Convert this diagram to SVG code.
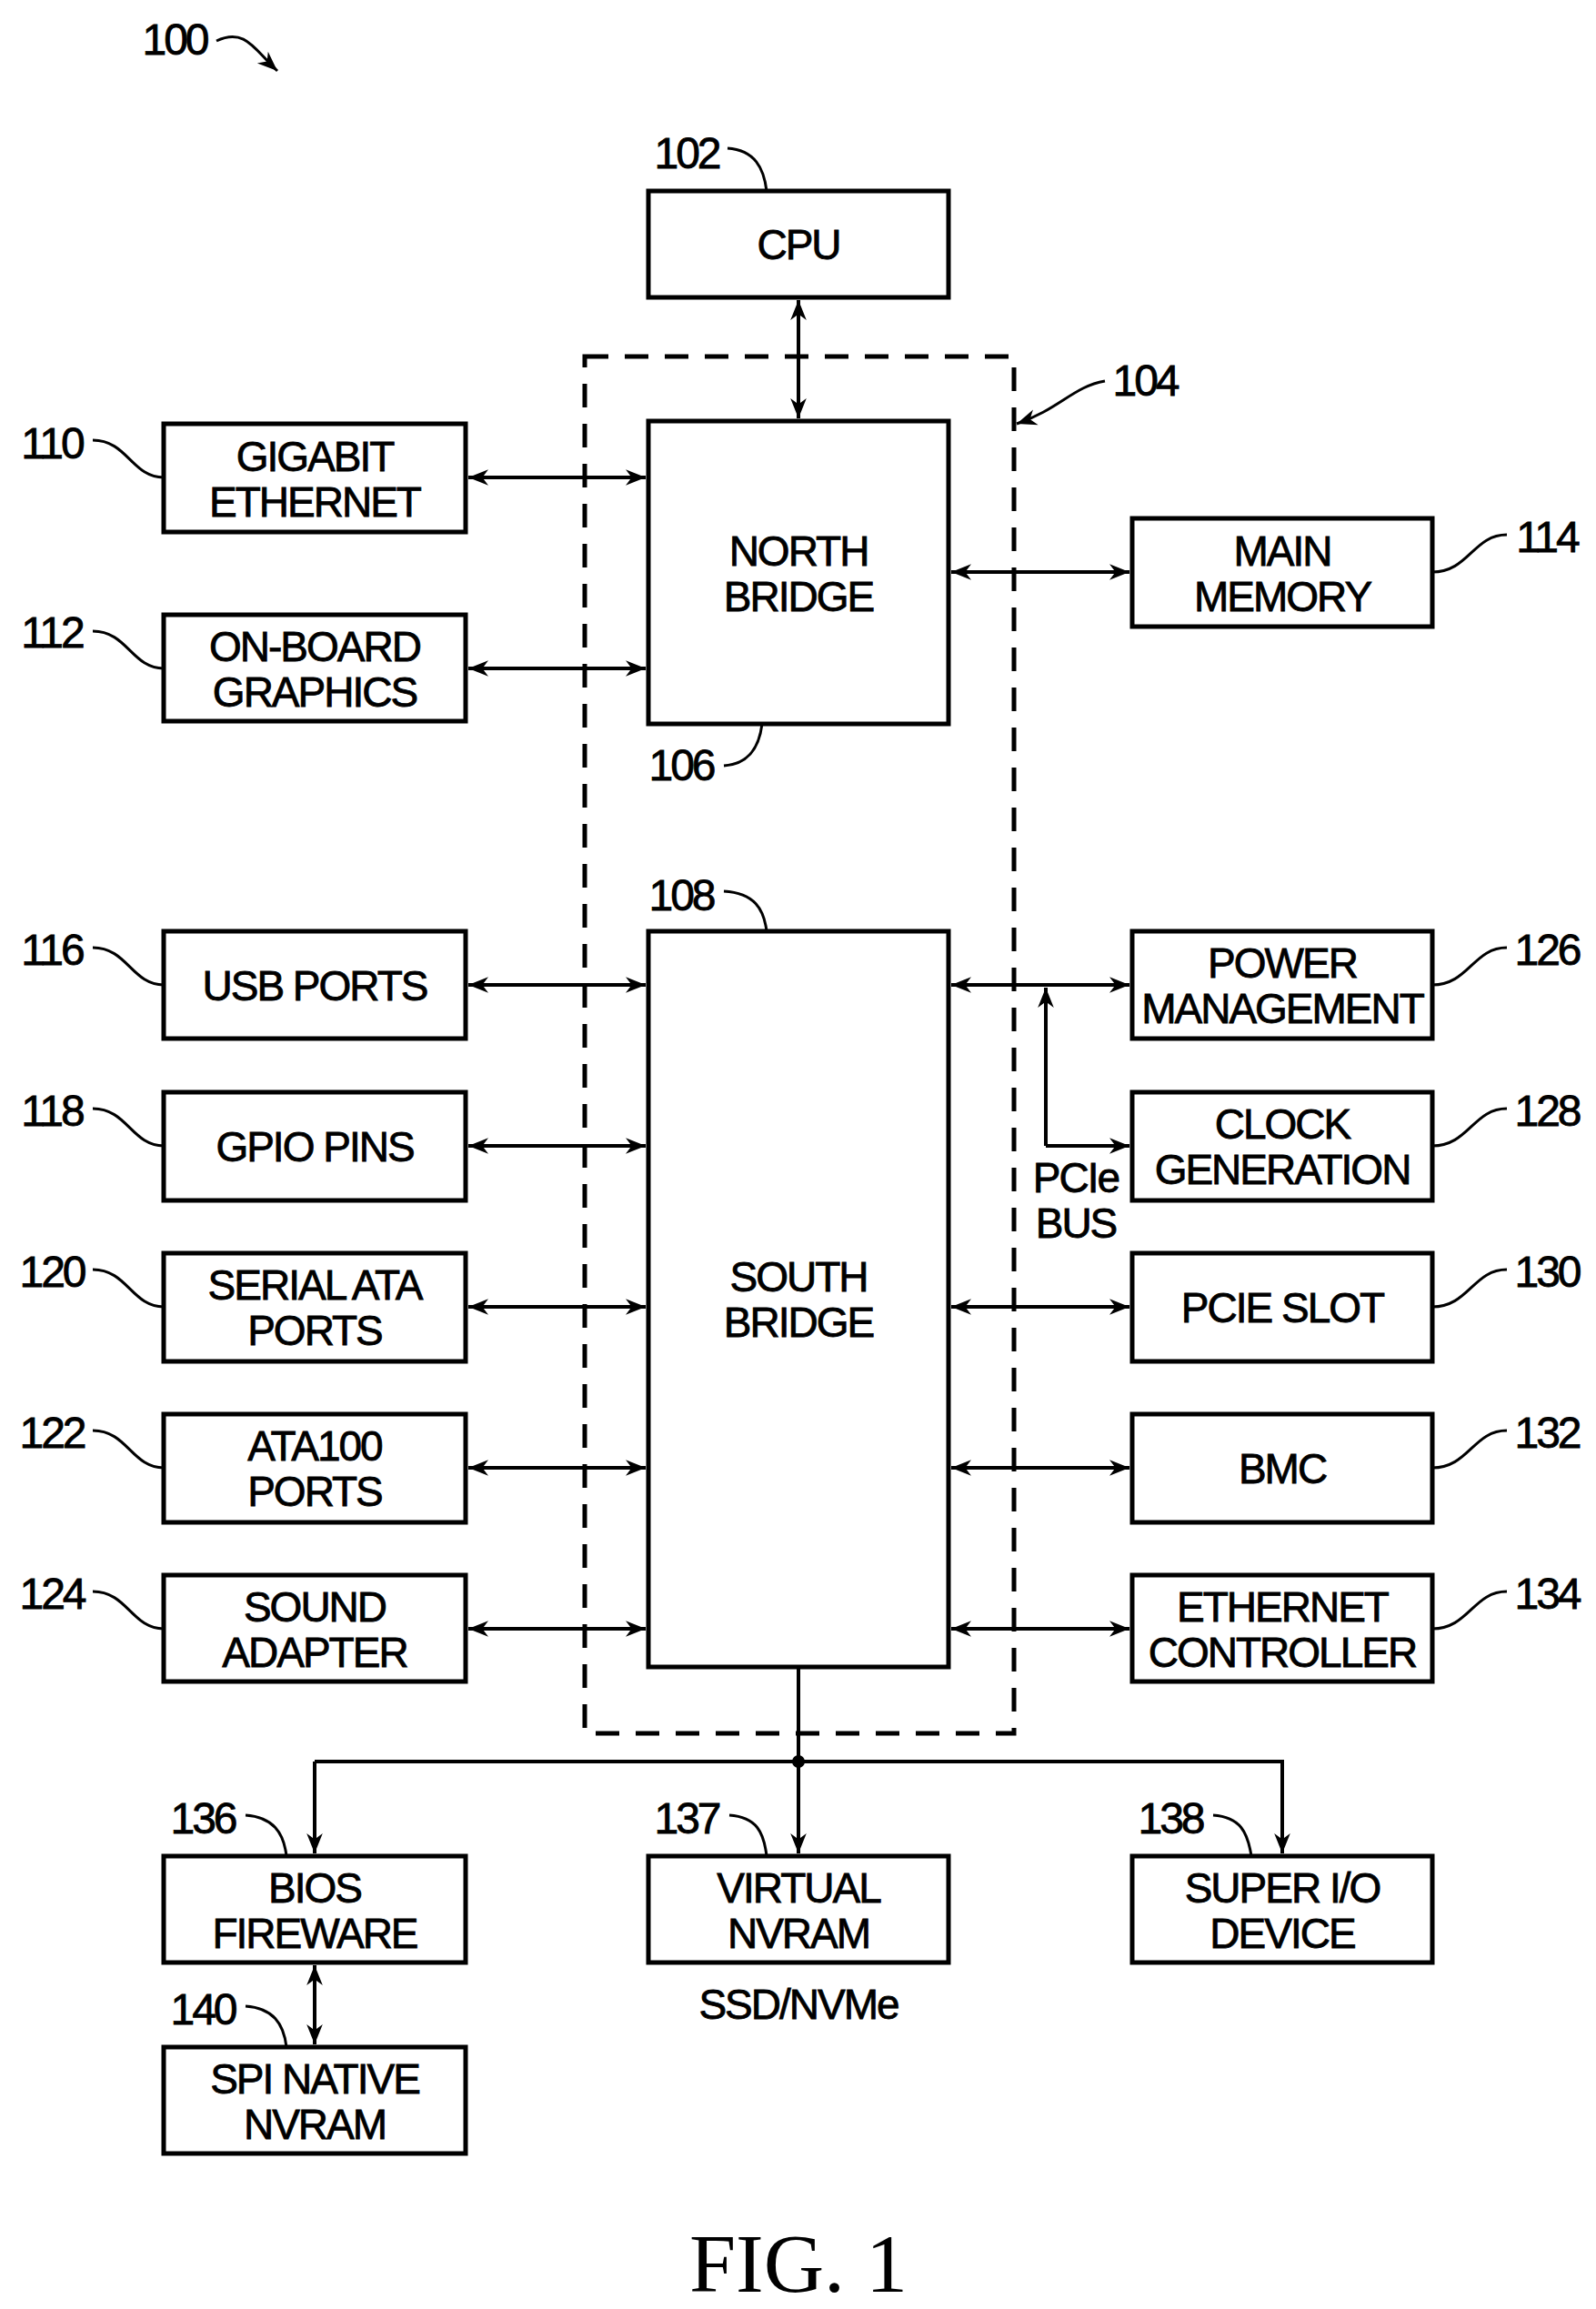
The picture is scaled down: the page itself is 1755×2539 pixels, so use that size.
<svg xmlns="http://www.w3.org/2000/svg" width="1755" height="2539" viewBox="0 0 1755 2539">
<style>
.b{fill:#fff;stroke:#000;stroke-width:5}
.t{font-family:"Liberation Sans",Arial,sans-serif;font-size:46px;text-anchor:middle;letter-spacing:-2px;stroke:#000;stroke-width:0.8}
.n{font-family:"Liberation Sans",Arial,sans-serif;font-size:48px;text-anchor:middle;letter-spacing:-3px;stroke:#000;stroke-width:0.8}
.c{fill:none;stroke:#000;stroke-width:4}
.l{fill:none;stroke:#000;stroke-width:3}
</style>
<defs>
<marker id="m" viewBox="0 0 10 10" refX="10" refY="5" markerWidth="22" markerHeight="22" markerUnits="userSpaceOnUse" orient="auto-start-reverse"><path d="M0,1L10,5L0,9L3,5z" fill="#000"/></marker>
</defs>
<rect width="1755" height="2539" fill="#fff"/>
<g id="container104"><rect x="643" y="392" width="472" height="1514" fill="none" stroke="#000" stroke-width="5" stroke-dasharray="26,18"/></g>
<g id="connectors">
<path class="c" d="M878 330V460" marker-start="url(#m)" marker-end="url(#m)"/>
<path class="c" d="M515 525H710" marker-start="url(#m)" marker-end="url(#m)"/>
<path class="c" d="M515 735H710" marker-start="url(#m)" marker-end="url(#m)"/>
<path class="c" d="M1046 629H1242" marker-start="url(#m)" marker-end="url(#m)"/>
<path class="c" d="M515 1083H710" marker-start="url(#m)" marker-end="url(#m)"/>
<path class="c" d="M515 1260H710" marker-start="url(#m)" marker-end="url(#m)"/>
<path class="c" d="M515 1437H710" marker-start="url(#m)" marker-end="url(#m)"/>
<path class="c" d="M515 1614H710" marker-start="url(#m)" marker-end="url(#m)"/>
<path class="c" d="M515 1791H710" marker-start="url(#m)" marker-end="url(#m)"/>
<path class="c" d="M1046 1083H1242" marker-start="url(#m)" marker-end="url(#m)"/>
<path class="c" d="M1150 1260H1242" marker-end="url(#m)"/>
<path class="c" d="M1150 1260V1086" marker-end="url(#m)"/>
<path class="c" d="M1046 1437H1242" marker-start="url(#m)" marker-end="url(#m)"/>
<path class="c" d="M1046 1614H1242" marker-start="url(#m)" marker-end="url(#m)"/>
<path class="c" d="M1046 1791H1242" marker-start="url(#m)" marker-end="url(#m)"/>
<path class="c" d="M878 1833V2038" marker-end="url(#m)"/>
<path class="c" d="M346 1937H1410V2038" marker-end="url(#m)"/>
<path class="c" d="M346 1937V2038" marker-end="url(#m)"/>
<circle cx="878" cy="1937" r="7"/>
<path class="c" d="M346 2161V2248" marker-start="url(#m)" marker-end="url(#m)"/>
</g>
<g id="cpu"><rect class="b" x="713" y="210" width="330" height="117"/><text class="t" x="878" y="285">CPU</text></g>
<g id="northbridge"><rect class="b" x="713" y="463" width="330" height="333"/><text class="t" x="878" y="622">NORTH</text><text class="t" x="878" y="672">BRIDGE</text></g>
<g id="southbridge"><rect class="b" x="713" y="1024" width="330" height="809"/><text class="t" x="878" y="1420">SOUTH</text><text class="t" x="878" y="1470">BRIDGE</text></g>
<g id="gigabit"><rect class="b" x="180" y="466" width="332" height="119"/><text class="t" x="346" y="518">GIGABIT</text><text class="t" x="346" y="568">ETHERNET</text></g>
<g id="graphics"><rect class="b" x="180" y="676" width="332" height="117"/><text class="t" x="346" y="727">ON-BOARD</text><text class="t" x="346" y="777">GRAPHICS</text></g>
<g id="memory"><rect class="b" x="1245" y="570" width="330" height="119"/><text class="t" x="1410" y="622">MAIN</text><text class="t" x="1410" y="672">MEMORY</text></g>
<g id="usb"><rect class="b" x="180" y="1024" width="332" height="118"/><text class="t" x="346" y="1100">USB PORTS</text></g>
<g id="gpio"><rect class="b" x="180" y="1201" width="332" height="119"/><text class="t" x="346" y="1277">GPIO PINS</text></g>
<g id="sata"><rect class="b" x="180" y="1378" width="332" height="119"/><text class="t" x="346" y="1429">SERIAL ATA</text><text class="t" x="346" y="1479">PORTS</text></g>
<g id="ata100"><rect class="b" x="180" y="1555" width="332" height="119"/><text class="t" x="346" y="1606">ATA100</text><text class="t" x="346" y="1656">PORTS</text></g>
<g id="sound"><rect class="b" x="180" y="1732" width="332" height="117"/><text class="t" x="346" y="1783">SOUND</text><text class="t" x="346" y="1833">ADAPTER</text></g>
<g id="power"><rect class="b" x="1245" y="1024" width="330" height="118"/><text class="t" x="1410" y="1075">POWER</text><text class="t" x="1410" y="1125">MANAGEMENT</text></g>
<g id="clock"><rect class="b" x="1245" y="1201" width="330" height="119"/><text class="t" x="1410" y="1252">CLOCK</text><text class="t" x="1410" y="1302">GENERATION</text></g>
<g id="pcieslot"><rect class="b" x="1245" y="1378" width="330" height="119"/><text class="t" x="1410" y="1454">PCIE SLOT</text></g>
<g id="bmc"><rect class="b" x="1245" y="1555" width="330" height="119"/><text class="t" x="1410" y="1631">BMC</text></g>
<g id="ethctrl"><rect class="b" x="1245" y="1732" width="330" height="117"/><text class="t" x="1410" y="1783">ETHERNET</text><text class="t" x="1410" y="1833">CONTROLLER</text></g>
<g id="bios"><rect class="b" x="180" y="2041" width="332" height="117"/><text class="t" x="346" y="2092">BIOS</text><text class="t" x="346" y="2142">FIREWARE</text></g>
<g id="vnvram"><rect class="b" x="713" y="2041" width="330" height="117"/><text class="t" x="878" y="2092">VIRTUAL</text><text class="t" x="878" y="2142">NVRAM</text></g>
<g id="superio"><rect class="b" x="1245" y="2041" width="330" height="117"/><text class="t" x="1410" y="2092">SUPER I/O</text><text class="t" x="1410" y="2142">DEVICE</text></g>
<g id="spi"><rect class="b" x="180" y="2251" width="332" height="117"/><text class="t" x="346" y="2302">SPI NATIVE</text><text class="t" x="346" y="2352">NVRAM</text></g>
<g id="texts">
<text class="t" x="1183" y="1311">PCIe</text><text class="t" x="1183" y="1361">BUS</text>
<text class="t" x="878" y="2220">SSD/NVMe</text>
<text x="878" y="2520" font-family="'Liberation Serif','Times New Roman',serif" font-size="92" text-anchor="middle">FIG. 1</text>
</g>
<g id="refs">
<text class="n" x="192" y="60">100</text><path class="l" d="M238 45C270 30 280 55 305 78" marker-end="url(#m)"/>
<text class="n" x="755" y="185">102</text><path class="l" d="M800 163C830 165 840 185 843 210"/>
<text class="n" x="1259" y="435">104</text><path class="l" d="M1215 419C1180 425 1165 450 1118 466" marker-end="url(#m)"/>
<text class="n" x="749" y="858">106</text><path class="l" d="M796 842C825 840 835 820 838 796"/>
<text class="n" x="749" y="1001">108</text><path class="l" d="M796 980C830 982 840 1000 843 1024"/>
<text class="n" x="57" y="504">110</text><path class="l" d="M102 484C140 484 145 525 180 525"/>
<text class="n" x="57" y="712">112</text><path class="l" d="M102 694C140 694 145 735 180 735"/>
<text class="n" x="1701" y="607">114</text><path class="l" d="M1657 588C1620 588 1615 629 1575 629"/>
<text class="n" x="57" y="1061">116</text><path class="l" d="M102 1042C140 1042 145 1083 180 1083"/>
<text class="n" x="57" y="1238">118</text><path class="l" d="M102 1219C140 1219 145 1260 180 1260"/>
<text class="n" x="57" y="1415">120</text><path class="l" d="M102 1396C140 1396 145 1437 180 1437"/>
<text class="n" x="57" y="1592">122</text><path class="l" d="M102 1573C140 1573 145 1614 180 1614"/>
<text class="n" x="57" y="1769">124</text><path class="l" d="M102 1750C140 1750 145 1791 180 1791"/>
<text class="n" x="1701" y="1061">126</text><path class="l" d="M1657 1042C1620 1042 1615 1083 1575 1083"/>
<text class="n" x="1701" y="1238">128</text><path class="l" d="M1657 1219C1620 1219 1615 1260 1575 1260"/>
<text class="n" x="1701" y="1415">130</text><path class="l" d="M1657 1396C1620 1396 1615 1437 1575 1437"/>
<text class="n" x="1701" y="1592">132</text><path class="l" d="M1657 1573C1620 1573 1615 1614 1575 1614"/>
<text class="n" x="1701" y="1769">134</text><path class="l" d="M1657 1750C1620 1750 1615 1791 1575 1791"/>
<text class="n" x="223" y="2016">136</text><path class="l" d="M270 1996C300 1998 312 2015 315 2041"/>
<text class="n" x="755" y="2016">137</text><path class="l" d="M802 1996C832 1998 840 2015 843 2041"/>
<text class="n" x="1287" y="2016">138</text><path class="l" d="M1334 1996C1364 1998 1372 2015 1376 2041"/>
<text class="n" x="223" y="2226">140</text><path class="l" d="M270 2206C300 2208 312 2225 315 2251"/>
</g>
</svg>
